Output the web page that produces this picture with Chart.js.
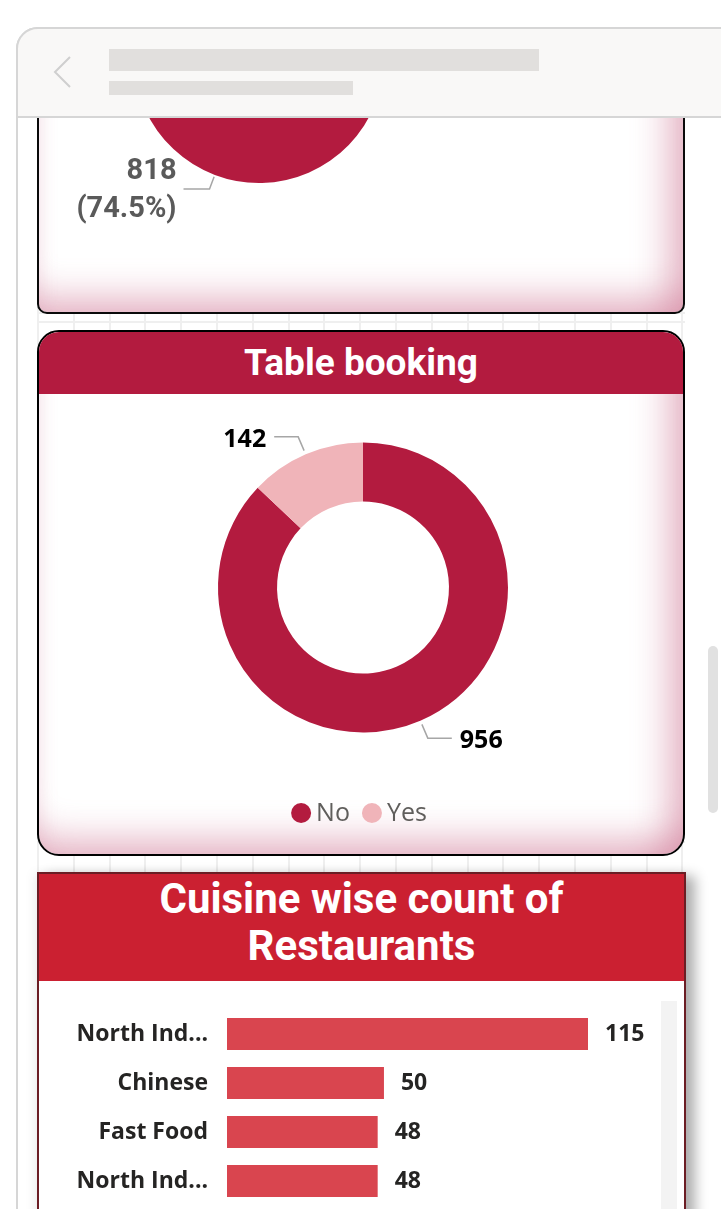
<!DOCTYPE html>
<html>
<head>
<meta charset="utf-8">
<script src="https://cdn.jsdelivr.net/npm/chart.js@4.4.1/dist/chart.umd.min.js"></script>
<style>
  html, body { margin:0; padding:0; width:721px; height:1209px; overflow:hidden; background:#fff; }
  #frame { position:absolute; left:16px; top:27px; width:760px; height:1300px; box-sizing:border-box;
           border:2px solid #d6d6d6; border-radius:22px 0 0 0; background:#fff; }
  #header { position:absolute; left:16px; top:27px; width:760px; height:91px; box-sizing:border-box;
            border:2px solid #d6d6d6; border-radius:22px 0 0 0; background:#f9f8f7; z-index:10; }
  .ph { position:absolute; background:#e1dfdd; }
  #clip { position:absolute; left:0; top:118px; width:721px; height:1091px; overflow:hidden; }
  #pg { position:absolute; left:0; top:-118px; width:721px; height:1209px; }
  #grid { position:absolute; left:37px; top:0; width:648px; height:1209px;
          background-image:
            repeating-linear-gradient(to right, #efefef 0 2px, transparent 2px 35.8px),
            repeating-linear-gradient(to bottom, transparent 0 1px, #efefef 1px 3px, transparent 3px 40px);
          background-position: 0 0, 0 320px; }
  .card { position:absolute; box-sizing:border-box; background:#fff; }
  .glow { box-shadow: inset 0 -38px 34px -22px rgba(205,110,142,0.48),
                      inset -38px 0 34px -22px rgba(205,110,142,0.48),
                      inset 16px 0 20px -16px rgba(205,110,142,0.16); }
  #topCard { left:37px; top:-200px; width:648px; height:514px; border:2px solid #0a0a0a; border-radius:10px; }
  #tbCard { left:37px; top:330px; width:648px; height:526px; border:2px solid #000; border-radius:22px; overflow:hidden; }
  #tbHead { position:absolute; left:0; top:0; right:0; height:62px; background:#b31b3f; color:#fff;
            font-family:Roboto, "DejaVu Sans", sans-serif; font-weight:700; font-size:37px; line-height:62px; text-align:center; }
  #cuCard { left:37px; top:872px; width:649px; height:420px; border:2px solid #6b1d24;
            box-shadow: 9px 4px 12px rgba(0,0,0,0.32), -4px 0 10px rgba(0,0,0,0.05); }
  #cuHead { position:absolute; left:0; top:0; right:0; height:107px; background:#cb2031; }
  #cuTitle { position:absolute; left:0; right:0; top:1px; color:#fff; text-align:center;
             font-family:Roboto, "DejaVu Sans", sans-serif; font-weight:700; font-size:42px; line-height:47px; }
  #track { position:absolute; left:661px; top:1001px; width:16px; height:260px; background:#f3f3f3; }
  #scroll { position:absolute; left:708px; top:646px; width:10px; height:167px; border-radius:5px; background:#e1e1e1; z-index:3; }
  canvas { position:absolute; }
</style>
</head>
<body>
<div id="frame"></div>
<div id="clip"><div id="pg">
  <div id="grid"></div>
  <div id="topCard" class="card glow"></div>
  <canvas id="topPie" width="442" height="400" style="left:38px; top:-142px; width:442px; height:400px;"></canvas>

  <div id="tbCard" class="card glow"><div id="tbHead">Table booking</div></div>
  <canvas id="tbChart" width="642" height="458" style="left:40px; top:394px; width:642px; height:458px;"></canvas>

  <div id="cuCard" class="card"><div id="cuHead"><div id="cuTitle">Cuisine wise count of<br>Restaurants</div></div></div>
  <div id="track"></div>
  <canvas id="cuChart" width="620" height="240" style="left:40px; top:982px; width:620px; height:240px;"></canvas>
</div></div>
<div id="header">
  <svg style="position:absolute; left:0; top:0;" width="120" height="90">
    <polyline points="52,28 37,43 52,58" fill="none" stroke="#cfcfcf" stroke-width="2"/>
  </svg>
  <div class="ph" style="left:91px; top:20px; width:430px; height:22px;"></div>
  <div class="ph" style="left:91px; top:52px; width:244px; height:14px;"></div>
</div>
<div id="scroll"></div>

<script>
// ---- data ----
const topCategories = ['Yes', 'No'];
const topValues = [818, 280];
const topColors = ['#b31b3f', '#f0b4b9'];

const bookingCategories = ['No', 'Yes'];
const bookingValues = [956, 142];
const bookingColors = ['#b31b3f', '#f0b4b9'];

const cuisineCategories = ['North Ind...', 'Chinese', 'Fast Food', 'North Ind...'];
const cuisineValues = [115, 50, 48, 48];
const barColor = '#d9454f';

// ---- plugins ----
const leaderPlugin = {
  id: 'leader',
  afterDatasetsDraw(chart, args, o) {
    if (!o || !o.enabled) return;
    const ctx = chart.ctx;
    const meta = chart.getDatasetMeta(0);
    const data = chart.data.datasets[0].data;
    const total = data.reduce((a, b) => a + b, 0);
    ctx.save();
    meta.data.forEach((arc, i) => {
      const p = arc.getProps(['x', 'y', 'startAngle', 'endAngle', 'outerRadius'], true);
      const mid = (p.startAngle + p.endAngle) / 2;
      const cx = Math.cos(mid), cy = Math.sin(mid);
      const x0 = p.x + cx * (p.outerRadius + o.r0), y0 = p.y + cy * (p.outerRadius + o.r0);
      const x1 = p.x + cx * (p.outerRadius + o.r1), y1 = p.y + cy * (p.outerRadius + o.r1);
      const dir = cx < 0 ? -1 : 1;
      const x2 = x1 + dir * o.h;
      ctx.strokeStyle = o.lineColor; ctx.lineWidth = o.lineWidth;
      ctx.beginPath(); ctx.moveTo(x0, y0); ctx.lineTo(x1, y1); ctx.lineTo(x2, y1); ctx.stroke();
      const v = data[i];
      const lines = o.mode === 'valuePct'
        ? [String(v), '(' + (v / total * 100).toFixed(1) + '%)']
        : [String(v)];
      ctx.font = o.font; ctx.fillStyle = o.color;
      ctx.textAlign = dir < 0 ? 'right' : 'left';
      ctx.textBaseline = 'middle';
      const tx = x2 + dir * o.gap;
      const n = lines.length;
      lines.forEach((t, k) => ctx.fillText(t, tx, y1 + o.dy + (k - (n - 1) / 2) * o.lineHeight));
    });
    ctx.restore();
  }
};

const dotLegend = {
  id: 'dotLegend',
  afterDraw(chart, args, o) {
    if (!o || !o.enabled) return;
    const ctx = chart.ctx;
    const labels = chart.data.labels;
    const colors = chart.data.datasets[0].backgroundColor;
    ctx.save();
    ctx.font = o.font;
    const widths = labels.map(l => ctx.measureText(l).width);
    const total = widths.reduce((a, w) => a + 2 * o.r + o.gap + w, 0) + o.itemGap * (labels.length - 1);
    let x = (chart.chartArea.left + chart.chartArea.right) / 2 + o.dx - total / 2;
    labels.forEach((l, i) => {
      ctx.fillStyle = colors[i];
      ctx.beginPath(); ctx.arc(x + o.r, o.y, o.r, 0, Math.PI * 2); ctx.fill();
      x += 2 * o.r + o.gap;
      ctx.fillStyle = o.color; ctx.textAlign = 'left'; ctx.textBaseline = 'middle';
      ctx.fillText(l, x, o.y + 1);
      x += widths[i] + o.itemGap;
    });
    ctx.restore();
  }
};

const barValues = {
  id: 'barValues',
  afterDatasetsDraw(chart, args, o) {
    if (!o || !o.enabled) return;
    const ctx = chart.ctx;
    const meta = chart.getDatasetMeta(0);
    const data = chart.data.datasets[0].data;
    ctx.save();
    ctx.font = o.font; ctx.fillStyle = o.color; ctx.textAlign = 'left'; ctx.textBaseline = 'middle';
    meta.data.forEach((bar, i) => ctx.fillText(String(data[i]), bar.x + o.offset, bar.y + o.dy));
    ctx.restore();
  }
};

Chart.defaults.animation = false;
Chart.defaults.responsive = false;
Chart.defaults.plugins.tooltip.enabled = false;

// ---- top pie (partly scrolled out of view) ----
new Chart(document.getElementById('topPie'), {
  type: 'pie',
  data: { labels: topCategories, datasets: [{ data: topValues, backgroundColor: topColors, borderWidth: 0 }] },
  options: {
    radius: 125,
    rotation: 66.6,
    layout: { padding: 0 },
    plugins: {
      legend: { display: false },
      leader: { enabled: true, mode: 'valuePct', r0: 2, r1: 15, h: 26, gap: 7, dy: 2, lineHeight: 38,
                lineColor: '#a6a6a6', lineWidth: 1.5, color: '#5a5a5a',
                font: '700 29px Roboto, "DejaVu Sans", sans-serif' }
    }
  },
  plugins: [leaderPlugin]
});

// ---- table booking donut ----
new Chart(document.getElementById('tbChart'), {
  type: 'doughnut',
  data: { labels: bookingCategories, datasets: [{ data: bookingValues, backgroundColor: bookingColors, borderWidth: 0 }] },
  options: {
    radius: 145,
    cutout: '59.3%',
    layout: { padding: { left: 4, right: 0, top: 0, bottom: 71 } },
    plugins: {
      legend: { display: false },
      leader: { enabled: true, mode: 'value', r0: 4, r1: 19, h: 24, gap: 8, dy: 3, lineHeight: 30,
                lineColor: '#a6a6a6', lineWidth: 1.5, color: '#000',
                font: '700 25px "Open Sans", "Noto Sans", sans-serif' },
      dotLegend: { enabled: true, y: 419, r: 10, gap: 5, itemGap: 12, dx: -4, color: '#605e5c',
                   font: '400 25px "Open Sans", "Noto Sans", sans-serif' }
    }
  },
  plugins: [leaderPlugin, dotLegend]
});

// ---- cuisine bars ----
new Chart(document.getElementById('cuChart'), {
  type: 'bar',
  data: { labels: cuisineCategories,
          datasets: [{ data: cuisineValues, backgroundColor: barColor, borderWidth: 0,
                       barPercentage: 1, categoryPercentage: 0.653 }] },
  options: {
    indexAxis: 'y',
    layout: { padding: { left: 0, right: 72, top: 27.5, bottom: 16.5 } },
    scales: {
      x: { display: false, min: 0, max: Math.max(...cuisineValues) },
      y: {
        grid: { display: false, drawTicks: false }, border: { display: false },
        afterFit: s => { s.width = 187; s.paddingTop = 0; s.paddingBottom = 0; },
        ticks: { padding: 19, color: '#252423', font: { family: '"Open Sans", "Noto Sans", sans-serif', size: 23, weight: '700' } }
      }
    },
    plugins: {
      legend: { display: false },
      barValues: { enabled: true, offset: 17, dy: 0, color: '#252423',
                   font: '700 23px "Open Sans", "Noto Sans", sans-serif' }
    }
  },
  plugins: [barValues]
});
</script>
</body>
</html>
